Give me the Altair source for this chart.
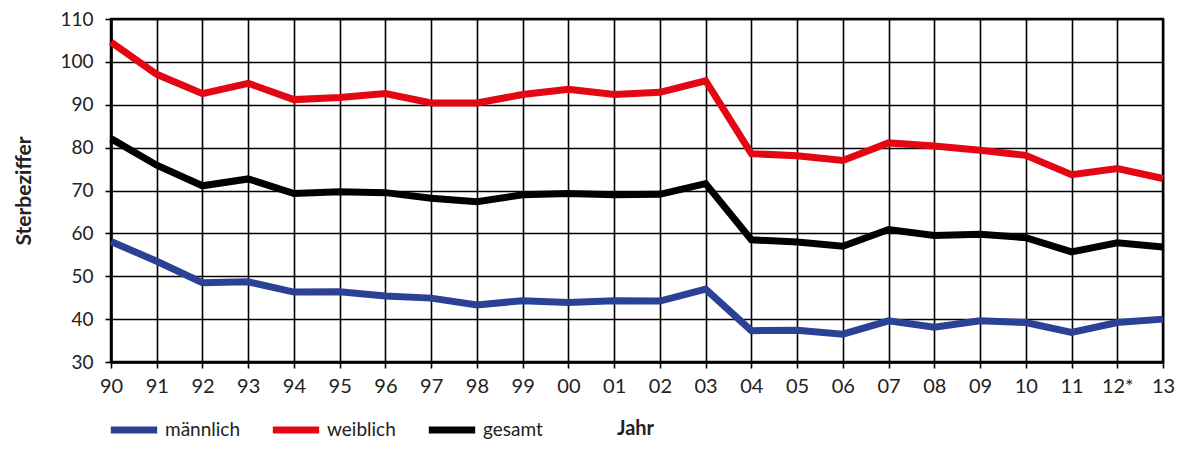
import altair as alt
import pandas as pd

years = ["90", "91", "92", "93", "94", "95", "96", "97", "98", "99", "00", "01",
         "02", "03", "04", "05", "06", "07", "08", "09", "10", "11", "12*", "13"]
maennlich = [58.1, 53.5, 48.5, 48.7, 46.3, 46.4, 45.4, 44.9, 43.3, 44.3, 43.9, 44.3,
             44.2, 47.0, 37.3, 37.4, 36.5, 39.6, 38.1, 39.6, 39.2, 36.9, 39.2, 40.0]
weiblich = [104.6, 97.1, 92.6, 95.0, 91.2, 91.7, 92.6, 90.4, 90.4, 92.4, 93.6, 92.4,
            92.9, 95.6, 78.6, 78.1, 77.0, 81.1, 80.4, 79.4, 78.2, 73.7, 75.1, 72.8]
gesamt = [82.1, 75.9, 71.1, 72.7, 69.3, 69.7, 69.5, 68.2, 67.4, 69.0, 69.3, 69.0,
          69.1, 71.6, 58.5, 58.0, 57.0, 60.9, 59.5, 59.8, 59.0, 55.7, 57.8, 56.8]
series = ["männlich", "weiblich", "gesamt"]
colors = ["#2B4195", "#E30613", "#000000"]
y_ticks = [30, 40, 50, 60, 70, 80, 90, 100, 110]

rows = []
for name, vals in zip(series, [maennlich, weiblich, gesamt]):
    for i, (yr, v) in enumerate(zip(years, vals)):
        rows.append({"Jahr": yr, "Wert": v, "Serie": name, "order": i})
df = pd.DataFrame(rows)

FONT = "Lato"
TXT = "#222222"

chart = alt.Chart(df).mark_line(strokeWidth=7, strokeJoin="miter", strokeCap="butt").encode(
    x=alt.X("Jahr:O", sort=years,
            scale=alt.Scale(type="point", padding=0),
            axis=alt.Axis(title="Jahr", labelAngle=0, grid=True, gridColor="#000000",
                          gridWidth=1.6, gridOpacity=1, domainColor="#000000",
                          domainWidth=2.5, tickColor="#000000", tickWidth=1.6,
                          tickSize=6, labelFontSize=20, labelColor=TXT,
                          labelPadding=8, titleFontSize=20, titleFontWeight="bold",
                          titlePadding=22, titleColor=TXT, titleX=524)),
    y=alt.Y("Wert:Q", scale=alt.Scale(domain=[30, 110], nice=False, zero=False),
            axis=alt.Axis(title="Sterbeziffer", values=y_ticks, grid=True,
                          gridColor="#000000", gridWidth=1.6, gridOpacity=1,
                          domainColor="#000000", domainWidth=2.5, tickColor="#000000",
                          tickWidth=1.6, tickSize=6, labelFontSize=19,
                          labelColor=TXT, labelPadding=12, titleFontSize=21,
                          titleFontWeight="bold", titlePadding=25, titleColor=TXT)),
    color=alt.Color("Serie:N", scale=alt.Scale(domain=series, range=colors),
                    legend=alt.Legend(title=None, orient="none", legendX=-4, legendY=384,
                                      direction="horizontal", symbolType="stroke",
                                      symbolSize=2150, symbolStrokeWidth=7,
                                      labelFontSize=19, labelColor=TXT,
                                      labelOffset=4, columnPadding=18)),
    order="order:Q",
).properties(
    width=1052, height=343,
    autosize=alt.AutoSizeParams(type="none"),
    padding={"left": 103, "top": 11, "right": 12, "bottom": 80},
).configure(font=FONT).configure_view(stroke="#000000", strokeWidth=2.5)

chart.save("out.html", embed_options={"renderer": "svg", "actions": False})
